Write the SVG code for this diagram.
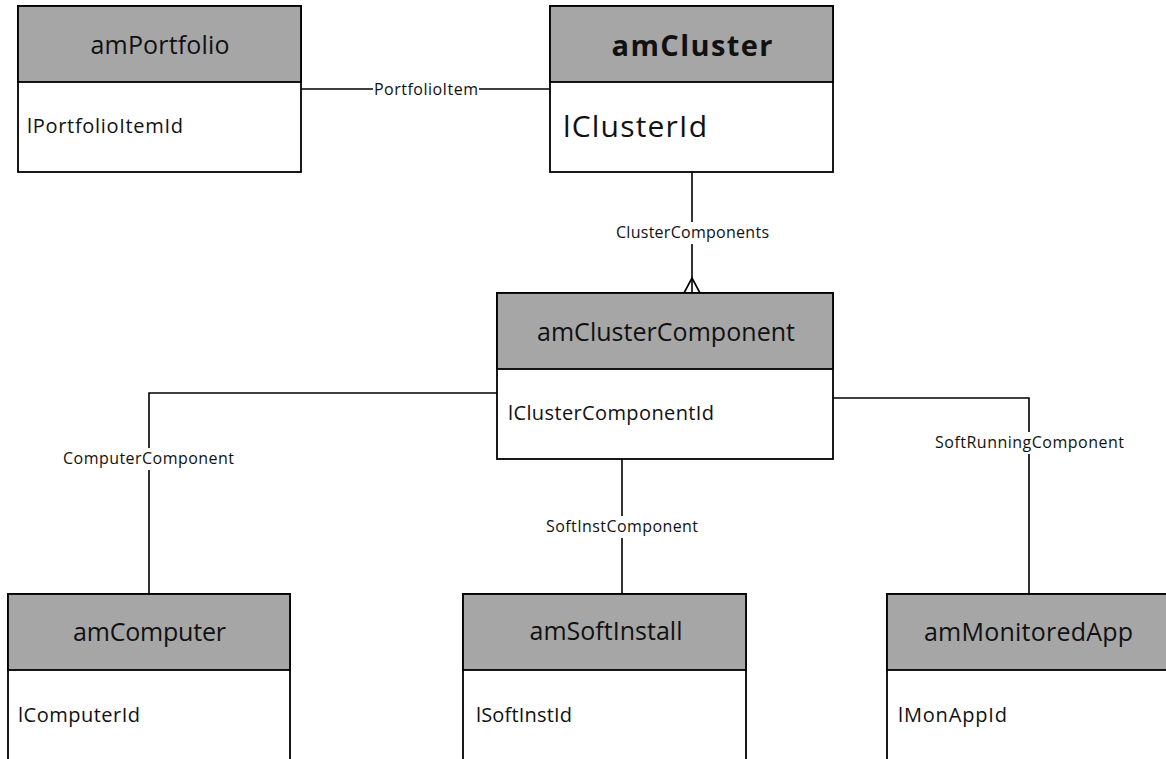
<svg xmlns="http://www.w3.org/2000/svg" width="1166" height="759" viewBox="0 0 1166 759">
<style>
.body{fill:#ffffff;stroke:#000000;stroke-width:1.8}
.head{fill:#a6a6a6;stroke:#000000;stroke-width:1.8}
.ht{font-family:"Open Sans","Liberation Sans",sans-serif;font-size:25px;fill:#111111;text-anchor:middle}
.at{font-family:"Open Sans","Liberation Sans",sans-serif;font-size:20px;fill:#111111}
.lbl{font-family:"Open Sans","Liberation Sans",sans-serif;font-size:16px;fill:#111111;text-anchor:middle}
.ln{fill:none;stroke:#000000;stroke-width:1.6}
.bg{fill:#ffffff}
</style>
<rect width="1166" height="759" fill="#ffffff"/>
<g id="connectors">
<path class="ln" d="M301 89 H550"/>
<rect class="bg" x="373" y="80" width="106" height="20"/>
<text class="lbl" x="426" y="95" textLength="104">PortfolioItem</text>
<path class="ln" d="M692 172 V293"/>
<path class="ln" d="M684 293 L692 278 L700 293"/>
<rect class="bg" x="612" y="222" width="160" height="22"/>
<text class="lbl" x="692.5" y="238" textLength="153">ClusterComponents</text>
<path class="ln" d="M497 393 H149 V594"/>
<rect class="bg" x="60" y="448" width="178" height="22"/>
<text class="lbl" x="148.5" y="464" textLength="171">ComputerComponent</text>
<path class="ln" d="M622 459 V594"/>
<rect class="bg" x="542" y="516" width="160" height="22"/>
<text class="lbl" x="622" y="532" textLength="152">SoftInstComponent</text>
<path class="ln" d="M833 398 H1029 V594"/>
<rect class="bg" x="931" y="432" width="196" height="22"/>
<text class="lbl" x="1029.5" y="448" textLength="189">SoftRunningComponent</text>
</g>
<g id="amPortfolio">
<rect class="body" x="18" y="6" width="283" height="166"/>
<rect class="head" x="18" y="6" width="283" height="76"/>
<text class="ht" x="160" y="54" textLength="139">amPortfolio</text>
<text class="at" x="27" y="133" textLength="156">lPortfolioItemId</text>
</g>
<g id="amCluster">
<rect class="body" x="550" y="6" width="283" height="166"/>
<rect class="head" x="550" y="6" width="283" height="76"/>
<text class="ht" x="692" y="56" style="font-size:29px;font-weight:bold" textLength="161">amCluster</text>
<text class="at" x="563" y="137" style="font-size:30px" textLength="144">lClusterId</text>
</g>
<g id="amClusterComponent">
<rect class="body" x="497" y="293" width="336" height="166"/>
<rect class="head" x="497" y="293" width="336" height="76"/>
<text class="ht" x="666" y="341" textLength="258">amClusterComponent</text>
<text class="at" x="508" y="420" textLength="206">lClusterComponentId</text>
</g>
<g id="amComputer">
<rect class="body" x="8" y="594" width="282" height="180"/>
<rect class="head" x="8" y="594" width="282" height="76"/>
<text class="ht" x="149.5" y="641" textLength="153">amComputer</text>
<text class="at" x="18" y="722" textLength="122">lComputerId</text>
</g>
<g id="amSoftInstall">
<rect class="body" x="463" y="594" width="283" height="180"/>
<rect class="head" x="463" y="594" width="283" height="76"/>
<text class="ht" x="606" y="640" textLength="153">amSoftInstall</text>
<text class="at" x="476" y="722" textLength="96">lSoftInstId</text>
</g>
<g id="amMonitoredApp">
<rect class="body" x="887" y="594" width="290" height="180"/>
<rect class="head" x="887" y="594" width="290" height="76"/>
<text class="ht" x="1028.5" y="641" textLength="209">amMonitoredApp</text>
<text class="at" x="898" y="722" textLength="109">lMonAppId</text>
</g>
</svg>
